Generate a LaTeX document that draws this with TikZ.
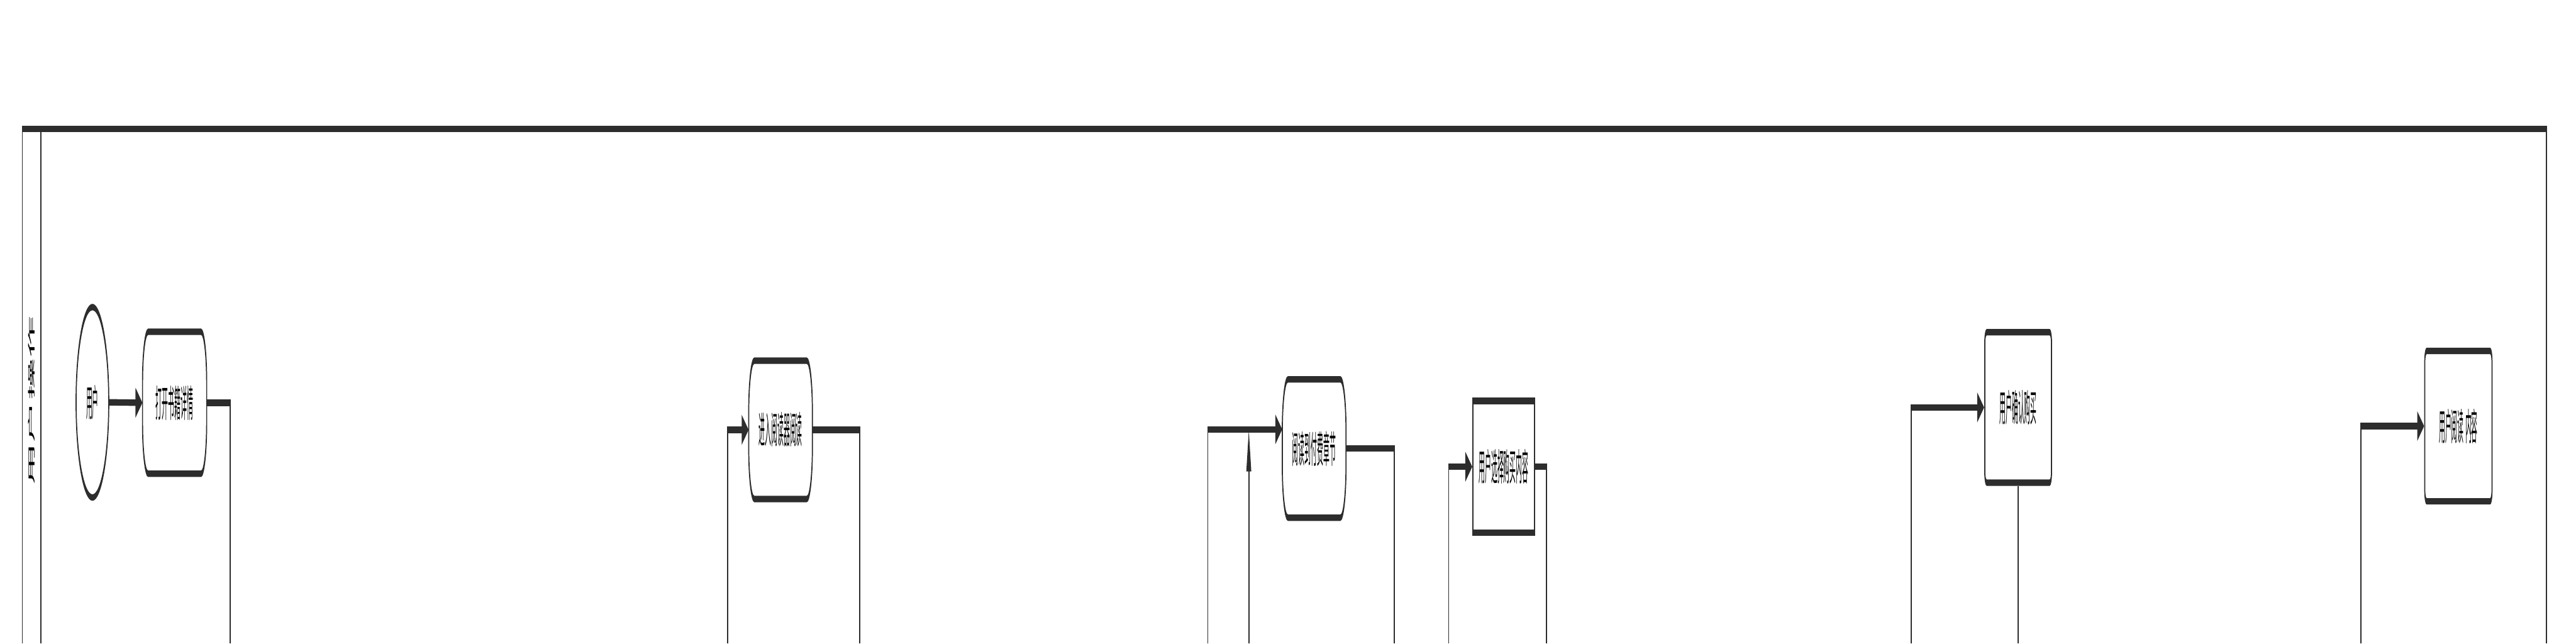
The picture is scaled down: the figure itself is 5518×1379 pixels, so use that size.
\documentclass[tikz,border=0pt]{standalone}
\usepackage{fontspec}
\newfontfamily\cjk{Noto Sans CJK SC}
\usetikzlibrary{arrows.meta, shapes.geometric, calc}

\definecolor{linec}{RGB}{45,45,45}

% outline with bulging sides round a named node
\newcommand{\barrelbox}[1]{%
  \draw[boxline] ($(#1.north west)+(12,0)$) -- ($(#1.north east)+(-12,0)$)
    .. controls +(6.6,0) and +(0,-60) .. ($(#1.north east)+(0,110)$)
    -- ($(#1.south east)+(0,-110)$)
    .. controls +(0,60) and +(6.6,0) .. ($(#1.south east)+(-12,0)$)
    -- ($(#1.south west)+(12,0)$)
    .. controls +(-6.6,0) and +(0,60) .. ($(#1.south west)+(0,-110)$)
    -- ($(#1.north west)+(0,110)$)
    .. controls +(0,-60) and +(-6.6,0) .. ($(#1.north west)+(12,0)$) -- cycle;}

\begin{document}
\begin{tikzpicture}[x=0.1mm, y=-0.1mm,
  lane/.style={draw=linec, line width=0.23mm},
  boxline/.style={draw=linec, line width=0.23mm},
  line/.style={draw=linec, line width=0.23mm},
  flow/.style={draw=linec, line width=0.23mm, -{Triangle[length=1.5mm, width=1mm]}},
  txt/.style={font=\cjk\fontsize{3.8pt}{4pt}\selectfont, text=black, inner sep=0pt},
  proc/.style={txt, minimum width=13.6mm, minimum height=4.8mm},
  rbox/.style={txt, draw=linec, line width=0.23mm, rounded corners=0.4mm},
  sbox/.style={txt, draw=linec, line width=0.23mm}]
  \useasboundingbox (0,0) rectangle (5518,1379);

  \begin{scope}[transform canvas={yscale=6}, y=-0.016667mm]
  % Pool and lane
  \draw[lane] (48,1379) -- (48,276) -- (5455,276) -- (5455,1379);
  \draw[lane] (88,276) -- (88,1379);
  \node[txt, font=\cjk\fontsize{4.3pt}{4.5pt}\selectfont, rotate=90] (lanelbl) at (68,858) {用户操作};

  % Start
  \node[txt, ellipse, draw=linec, line width=0.23mm, minimum width=7mm, minimum height=6.8mm] (user) at (198,862) {用户};

  % Steps
  \node[proc, minimum height=4.93mm] (open) at (374,863) {打开书籍详情};
  \barrelbox{open}
  \node[proc, minimum width=13.5mm] (enter) at (1672,921) {进入阅读器阅读};
  \barrelbox{enter}
  \node[proc, minimum width=13.5mm] (paid) at (2815,961) {阅读到付费章节};
  \barrelbox{paid}
  \node[sbox, minimum width=13.2mm, minimum height=4.7mm] (choose) at (3221,1000) {用户选择购买内容};
  \node[rbox, minimum width=14.3mm, minimum height=5.37mm] (confirm) at (4323,873) {用户确认购买};
  \node[rbox, minimum width=14.4mm, minimum height=5.37mm] (read) at (5266,913) {用户阅读 内容};

  % Free ends below the picture
  \coordinate (out1) at (493,1379);
  \coordinate (in2) at (1559,1379);
  \coordinate (out2) at (1842,1379);
  \coordinate (in3) at (2587,1379);
  \coordinate (back3) at (2675,1379);
  \coordinate (out3) at (2987,1379);
  \coordinate (in4) at (3103,1379);
  \coordinate (out4) at (3313,1379);
  \coordinate (in5) at (4094,1379);
  \coordinate (in6) at (5057,1379);
  \coordinate (hit3) at ($(paid.west)+(0,-41)$);

  % Connectors
  \draw[flow] (user.east) -- (open.west);
  \draw[line] (open.east) -| (out1);
  \draw[flow] (in2) |- (enter.west);
  \draw[line] (enter.east) -| (out2);
  \draw[flow] (in3) |- (hit3);
  \draw[flow] (back3) -- (back3 |- hit3);
  \draw[line] (paid.east) -| (out3);
  \draw[flow] (in4) |- (choose.west);
  \draw[line] (choose.east) -| (out4);
  \draw[flow] (in5) |- (confirm.west);
  \draw[line] (confirm.south) -- (confirm.south |- in5);
  \draw[flow] (in6) |- (read.west);
  \end{scope}
\end{tikzpicture}
\end{document}
